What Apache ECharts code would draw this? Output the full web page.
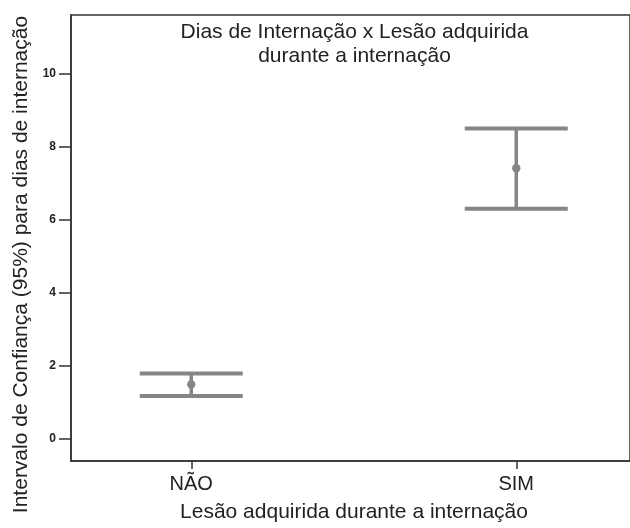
<!DOCTYPE html>
<html>
<head>
<meta charset="utf-8">
<script src="https://cdn.jsdelivr.net/npm/echarts@6/dist/echarts.min.js"></script>
<style>
html, body { margin: 0; padding: 0; background: #fff; }
#chart { width: 630px; height: 528px; }
</style>
</head>
<body>
<div id="chart"></div>
<script>
// categorias e intervalos de confiança (95%)
var categories = ['NÃO', 'SIM'];
var means = [1.48, 7.40];
var lower = [1.16, 6.29];
var upper = [1.78, 8.49];
var yTicks = [0, 2, 4, 6, 8, 10];

var barColor = '#858585';
var font = 'Liberation Sans, Arial, Helvetica, sans-serif';

var data = [];
for (var i = 0; i < categories.length; i++) {
	data.push([i, lower[i], upper[i], means[i]]);
}

var chart = echarts.init(document.getElementById('chart'));
var option = {
	animation: false,
	backgroundColor: '#fff',
	title: {
		text: 'Dias de Internação x Lesão adquirida\ndurante a internação',
		left: 349.5,
		top: 15,
		textAlign: 'center',
		textStyle: {
			fontFamily: font,
			fontSize: 21,
			fontWeight: 'normal',
			color: '#222',
			lineHeight: 24
		}
	},
	grid: {
		left: 71,
		right: -3,
		top: 15,
		bottom: 61,
		show: true,
		borderColor: '#333',
		borderWidth: 1.5
	},
	xAxis: {
		type: 'value',
		min: -0.37,
		max: 1.35,
		splitLine: { show: false },
		axisLine: { show: true, onZero: false, lineStyle: { color: '#333', width: 1.5 } },
		axisTick: { show: true, customValues: [0, 1], length: 8, lineStyle: { color: '#333', width: 1.5 } },
		axisLabel: {
			customValues: [0, 1],
			margin: 13,
			fontFamily: font,
			fontSize: 20,
			color: '#222',
			formatter: function(v) { return categories[Math.round(v)]; }
		},
		name: 'Lesão adquirida durante a internação',
		nameLocation: 'middle',
		nameGap: 41,
		nameTextStyle: { fontFamily: font, fontSize: 21, color: '#222', padding: [0, 0, 0, 7] }
	},
	yAxis: {
		type: 'value',
		min: -0.62,
		max: 11.6,
		splitLine: { show: false },
		axisLine: { show: true, onZero: false, lineStyle: { color: '#333', width: 1.5 } },
		axisTick: { show: true, customValues: yTicks, length: 12, lineStyle: { color: '#333', width: 1.5 } },
		axisLabel: {
			customValues: yTicks,
			margin: 15,
			fontFamily: font,
			fontSize: 12,
			fontWeight: 'bold',
			color: '#222'
		},
		name: 'Intervalo de Confiança (95%) para dias de internação',
		nameLocation: 'middle',
		nameGap: 39,
		nameTextStyle: { fontFamily: font, fontSize: 21, color: '#222', padding: [0, 53, 0, 0] }
	},
	series: [{
		type: 'custom',
		data: data,
		encode: { x: 0, y: [1, 2, 3] },
		renderItem: function(params, api) {
			var x = api.value(0);
			var lo = api.coord([x, api.value(1)]);
			var hi = api.coord([x, api.value(2)]);
			var mid = api.coord([x, api.value(3)]);
			var half = 51.5;
			var style = { stroke: barColor, lineWidth: 4, fill: null };
			return {
				type: 'group',
				children: [
					{ type: 'line', shape: { x1: hi[0], y1: hi[1], x2: lo[0], y2: lo[1] }, style: { stroke: barColor, lineWidth: 3.5 } },
					{ type: 'line', shape: { x1: hi[0] - half, y1: hi[1], x2: hi[0] + half, y2: hi[1] }, style: style },
					{ type: 'line', shape: { x1: lo[0] - half, y1: lo[1], x2: lo[0] + half, y2: lo[1] }, style: style },
					{ type: 'circle', shape: { cx: mid[0], cy: mid[1], r: 4.2 }, style: { fill: barColor } }
				]
			};
		}
	}]
};
chart.setOption(option);
</script>
</body>
</html>
